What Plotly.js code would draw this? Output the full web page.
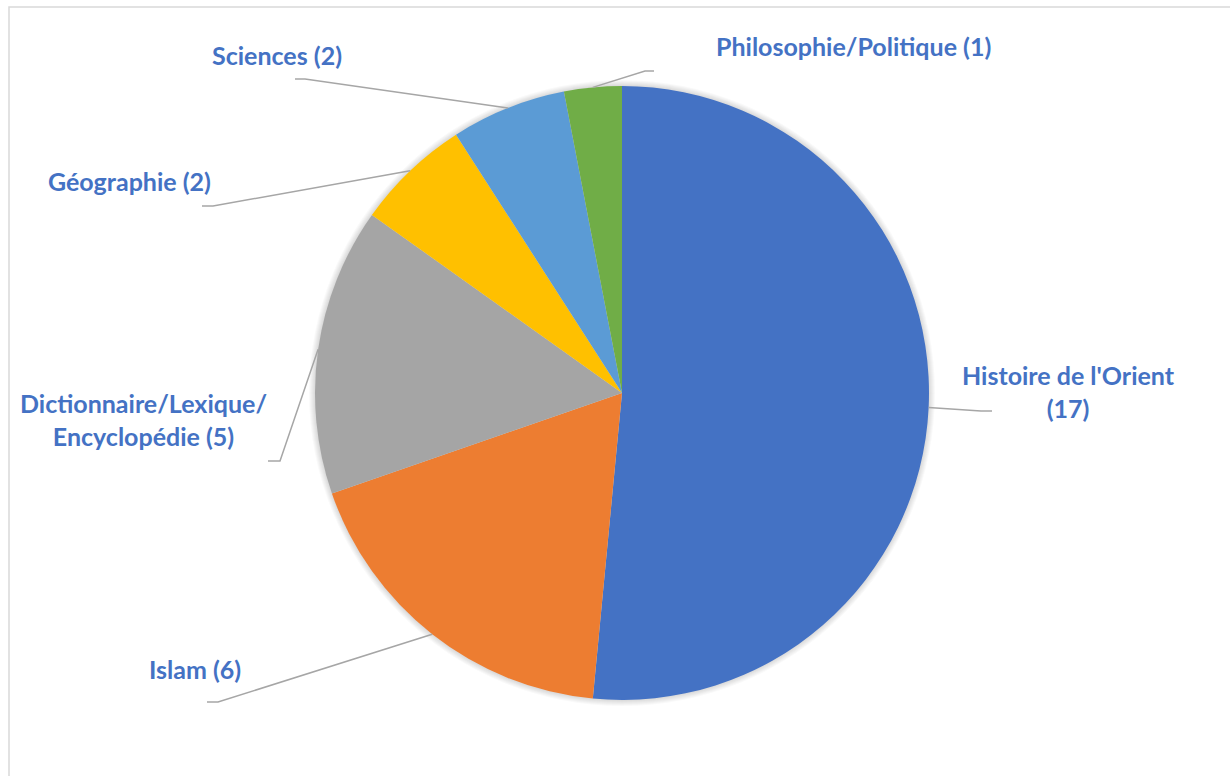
<!DOCTYPE html>
<html>
<head>
<meta charset="utf-8">
<script src="https://cdn.plot.ly/plotly-3.0.1.min.js"></script>
<style>
  html, body { margin: 0; padding: 0; background: #ffffff; }
  #chart { width: 1230px; height: 776px; }
</style>
</head>
<body>
<div id="chart"></div>
<script>
// ---- Data ----
const categories = ["Histoire de l'Orient", "Islam", "Dictionnaire/Lexique/Encyclopédie", "Géographie", "Sciences", "Philosophie/Politique"];
const values = [17, 6, 5, 2, 2, 1];
const sliceColors = ["#4472C4", "#ED7D31", "#A5A5A5", "#FFC000", "#5B9BD5", "#70AD47"];
// label text as displayed (line breaks where the original wraps)
const labelNames = ["Histoire de l'Orient<br>", "Islam ", "Dictionnaire/Lexique/<br>Encyclopédie ", "Géographie ", "Sciences ", "Philosophie/Politique "];

// ---- Layout geometry (pixels) ----
const W = 1230, H = 776;
const CX = 622, CY = 393, R = 307;
// leader-line elbow/end and label centre for each slice (layout only)
const labelPlacement = [
  { elbow: [981, 411], end: [992, 411], text: [1068, 391] },
  { elbow: [218, 702], end: [207, 702], text: [195, 669] },
  { elbow: [280, 461], end: [268, 461], text: [143, 419] },
  { elbow: [213, 206], end: [202, 206], text: [129, 181] },
  { elbow: [305, 79],  end: [295, 79],  text: [277, 55] },
  { elbow: [645, 71],  end: [654, 71],  text: [853, 46] }
];

const px = x => x / W;
const py = y => 1 - y / H;

const total = values.reduce((a, b) => a + b, 0);
let cum = 0;
const shapes = [];
const annotations = [];

// soft shadow around the pie
for (let k = 6; k >= 1; k--) {
  shapes.push({
    type: 'circle', xref: 'paper', yref: 'paper', layer: 'below',
    x0: px(CX - R - k), x1: px(CX + R + k), y0: py(CY + R + k), y1: py(CY - R - k),
    fillcolor: 'rgba(0,0,0,0.025)', line: { width: 0 }
  });
}

values.forEach((v, i) => {
  const theta = (cum + v / 2) / total * 2 * Math.PI;
  cum += v;
  const ax = CX + R * Math.sin(theta);
  const ay = CY - R * Math.cos(theta);
  const p = labelPlacement[i];
  shapes.push({
    type: 'path', xref: 'paper', yref: 'paper', layer: 'above',
    path: `M ${px(ax)} ${py(ay)} L ${px(p.elbow[0])} ${py(p.elbow[1])} L ${px(p.end[0])} ${py(p.end[1])}`,
    line: { color: '#A6A6A6', width: 1.5 }
  });
  annotations.push({
    xref: 'paper', yref: 'paper',
    x: px(p.text[0]), y: py(p.text[1]),
    xanchor: 'center', yanchor: 'middle', align: 'center',
    showarrow: false,
    text: labelNames[i] + '(' + v + ')',
    font: { family: 'Lato, "Open Sans", sans-serif', size: 25, color: '#4472C4', weight: 'bold' }
  });
});

// page border
shapes.push({
  type: 'rect', xref: 'paper', yref: 'paper', layer: 'above',
  x0: px(9), x1: px(W + 5), y0: py(H + 5), y1: py(7),
  line: { color: '#D9D9D9', width: 1.5 }, fillcolor: 'rgba(0,0,0,0)'
});

const trace = {
  type: 'pie',
  labels: categories,
  values: values,
  sort: false,
  direction: 'clockwise',
  rotation: 0,
  textinfo: 'none',
  hoverinfo: 'label+value',
  marker: { colors: sliceColors, line: { width: 0 } },
  domain: { x: [px(CX - R), px(CX + R)], y: [py(CY + R), py(CY - R)] },
  showlegend: false
};

const layout = {
  width: W, height: H,
  margin: { l: 0, r: 0, t: 0, b: 0 },
  paper_bgcolor: '#FFFFFF',
  plot_bgcolor: '#FFFFFF',
  showlegend: false,
  shapes: shapes,
  annotations: annotations
};

Plotly.newPlot('chart', [trace], layout, { displayModeBar: false, staticPlot: true });
</script>
</body>
</html>
